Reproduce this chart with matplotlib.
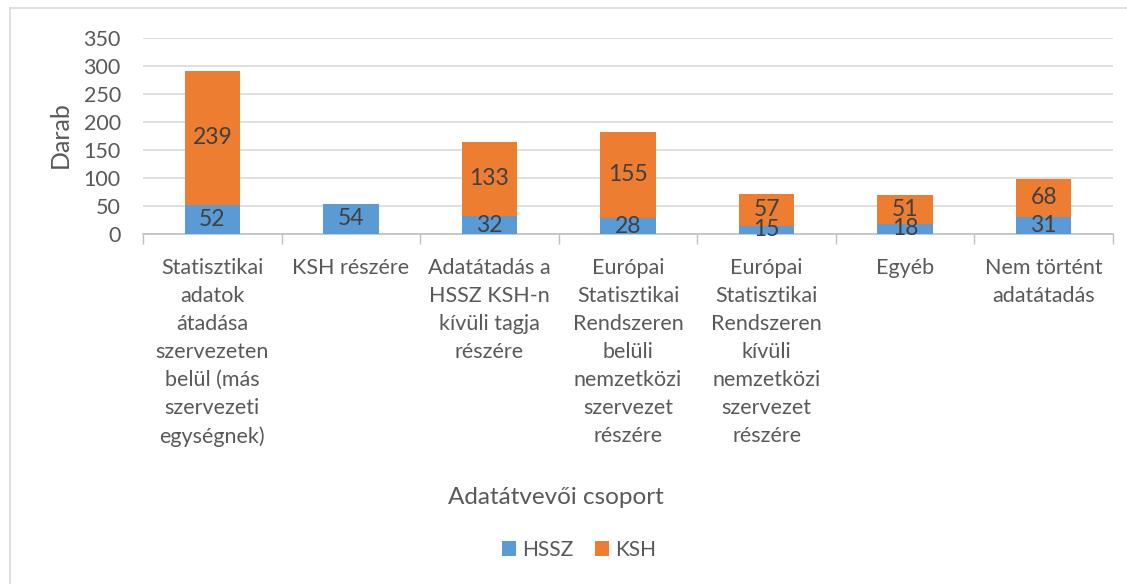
import matplotlib.pyplot as plt
import numpy as np
from matplotlib.lines import Line2D

categories = [
    "Statisztikai\nadatok\nátadása\nszervezeten\nbelül (más\nszervezeti\negységnek)",
    "KSH részére",
    "Adatátadás a\nHSSZ KSH-n\nkívüli tagja\nrészére",
    "Európai\nStatisztikai\nRendszeren\nbelüli\nnemzetközi\nszervezet\nrészére",
    "Európai\nStatisztikai\nRendszeren\nkívüli\nnemzetközi\nszervezet\nrészére",
    "Egyéb",
    "Nem történt\nadatátadás",
]
hssz = [52, 54, 32, 28, 15, 18, 31]
ksh = [239, 0, 133, 155, 57, 51, 68]

text_col = '#595959'
plt.rcParams['font.family'] = ['Lato', 'DejaVu Sans']
plt.rcParams['text.color'] = text_col

fig = plt.figure(figsize=(11.27, 5.84), dpi=100)
ax = fig.add_axes([143 / 1127, 1 - 234 / 584, (1113 - 143) / 1127, (234 - 38) / 584])

x = np.arange(len(categories))
w = 0.4
b1 = ax.bar(x, hssz, w, color='#5B9BD5', label='HSSZ', zorder=3)
b2 = ax.bar(x, ksh, w, bottom=hssz, color='#ED7D31', label='KSH', zorder=3)

for i in range(len(x)):
    ax.text(x[i], hssz[i] / 2, str(hssz[i]), ha='center', va='center',
            fontsize=16.5, color='#404040', zorder=4)
    if ksh[i] > 0:
        ax.text(x[i], hssz[i] + ksh[i] / 2, str(ksh[i]), ha='center', va='center',
                fontsize=16.5, color='#404040', zorder=4)

ax.set_ylim(0, 350)
ax.set_yticks(np.arange(0, 351, 50))
ax.set_xlim(-0.5, len(categories) - 0.5)
ax.set_xticks(x)
ax.set_xticklabels(categories, fontsize=15.5, color=text_col, linespacing=1.5)
ax.set_xticks(np.arange(-0.5, len(categories)), minor=True)
ax.tick_params(axis='x', which='major', length=0, pad=17)
ax.tick_params(axis='x', which='minor', length=7, color='#BFBFBF', width=1)
ax.tick_params(axis='y', length=0, labelsize=15.5, labelcolor=text_col, pad=16)
ax.grid(axis='y', color='#D9D9D9', linewidth=1.2, zorder=0)
for s in ['top', 'right', 'left']:
    ax.spines[s].set_visible(False)
ax.spines['bottom'].set_color('#BFBFBF')
ax.spines['bottom'].set_linewidth(1.2)

fig.text(60 / 1127, 1 - 135 / 584, 'Darab', rotation=90, ha='center', va='center',
         fontsize=18, color=text_col)
fig.text(556 / 1127, 1 - 497 / 584, 'Adatátvevői csoport', ha='center', va='center',
         fontsize=17.5, color=text_col)

fig.legend(handles=[b1, b2], loc='center', bbox_to_anchor=(579 / 1127, 1 - 550 / 584),
           ncol=2, frameon=False, fontsize=15, handlelength=0.7, handleheight=0.7,
           handletextpad=0.3, columnspacing=1.0)

# chart border (top and left visible)
fig.add_artist(Line2D([10 / 1127, 1.0], [1 - 8 / 584, 1 - 8 / 584],
                      transform=fig.transFigure, color='#D9D9D9', linewidth=1.2))
fig.add_artist(Line2D([10 / 1127, 10 / 1127], [0, 1 - 8 / 584],
                      transform=fig.transFigure, color='#D9D9D9', linewidth=1.2))

plt.savefig('out.png', dpi=100)
